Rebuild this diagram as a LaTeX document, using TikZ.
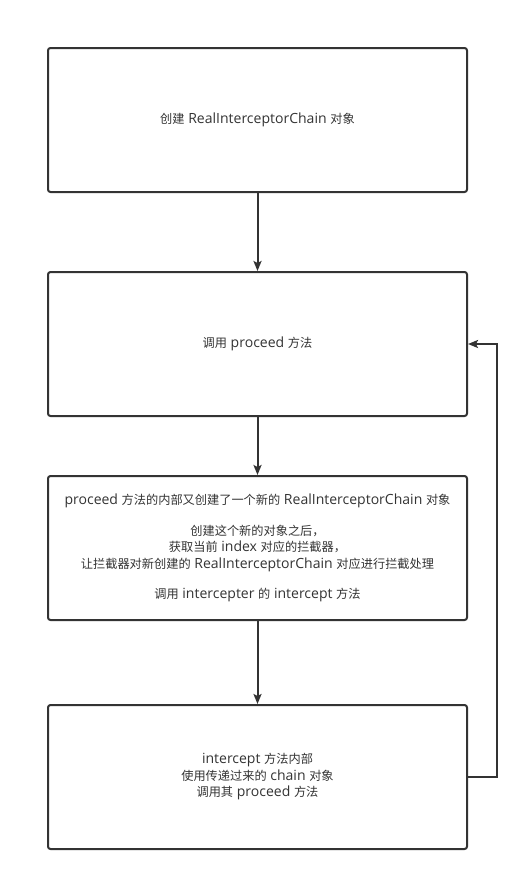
\documentclass[tikz,border=0pt]{standalone}
\usepackage{fontspec}
\setmainfont{Open Sans}[Scale=1.15]
\newfontfamily\zhfont{Noto Sans CJK SC}
\newcommand{\zh}[1]{{\zhfont #1}}
\usetikzlibrary{arrows.meta}
\definecolor{linegray}{HTML}{333333}
\tikzset{
  stepbox/.style={shape=rectangle,draw=linegray,line width=2pt,rounded corners=2.5pt,
    minimum width=419pt,minimum height=144pt,align=center,text=linegray,
    font=\fontsize{12.2pt}{16.5pt}\selectfont,inner sep=0pt},
  flow/.style={draw=linegray,line width=2pt,-{Stealth[length=10pt,width=8pt,inset=2pt]}}
}
\begin{document}
\begin{tikzpicture}[x=1pt,y=-1pt]
\useasboundingbox (0,0) rectangle (529,881);

\node[stepbox] (A) at (257.5,120) {\zh{创建} RealInterceptorChain \zh{对象}};
\node[stepbox] (B) at (257.5,344) {\zh{调用} proceed \zh{方法}};
\node[stepbox] (C) at (257.5,548) {proceed \zh{方法的内部又创建了一个新的} RealInterceptorChain \zh{对象}\\[14pt]
\zh{创建这个新的对象之后，}\\\zh{获取当前} index \zh{对应的拦截器，}\\\zh{让拦截器对新创建的} RealInterceptorChain \zh{对应进行拦截处理}\\[14pt]
\zh{调用} intercepter \zh{的} intercept \zh{方法}};
\node[stepbox] (D) at (257.5,777) {intercept \zh{方法内部}\\\zh{使用传递过来的} chain \zh{对象}\\\zh{调用其} proceed \zh{方法}};
\coordinate (loop) at (497,344);

\path[flow] (A) -- (B);
\path[flow] (B) -- (C);
\path[flow] (C) -- (D);
\path[flow] (D.east) -| (loop) -- (B.east);

\end{tikzpicture}
\end{document}
